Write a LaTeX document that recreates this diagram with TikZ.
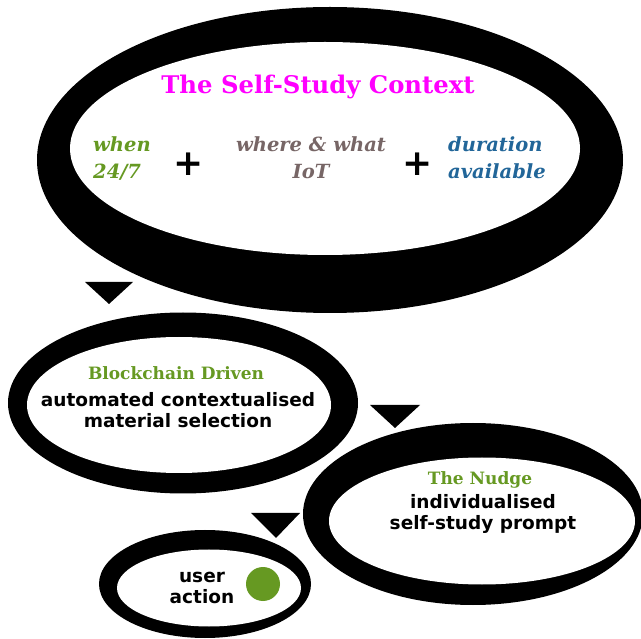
\documentclass[tikz,border=0pt]{standalone}
\usepackage{fontspec}
\newfontfamily\dvs{DejaVu Sans}
\newfontfamily\dvserif{DejaVu Serif}
\usetikzlibrary{shapes.geometric}
\definecolor{ctxgreen}{HTML}{669922}
\definecolor{ctxgray}{HTML}{776666}
\definecolor{ctxblue}{HTML}{226699}
\definecolor{ctxmag}{HTML}{FF00FF}
\begin{document}
\begin{tikzpicture}[x=1pt,y=-1pt,
  ring/.style={ellipse, fill=black, inner sep=0pt, outer sep=0pt},
  hole/.style={ellipse, fill=white, inner sep=0pt, outer sep=0pt},
  tri/.style={fill=black},
  title/.style={inner sep=0pt, font=\fontsize{24.3}{28}\selectfont\dvserif\bfseries, text=ctxmag},
  ctx/.style={inner sep=0pt, font=\fontsize{19.5}{27}\selectfont\dvserif\bfseries\itshape},
  head/.style={inner sep=0pt, font=\fontsize{17}{20}\selectfont\dvserif\bfseries, text=ctxgreen},
  body/.style={inner sep=0pt, align=center, font=\fontsize{18.5}{21}\selectfont\dvs\bfseries},
  plus/.style={inner sep=0pt, font=\fontsize{36}{36}\selectfont\dvs\bfseries}]
\useasboundingbox (0,0) rectangle (641,639);
\fill[white] (0,0) rectangle (641,639);

% top ring
\node[ring, minimum width=586pt, minimum height=306pt] (ctxo) at (330,160) {};
\node[hole, minimum width=510pt, minimum height=213pt] (ctxi) at (325,148.5) {};
\node[title] (ttl) at (318,87) {The Self-Study Context};
\node[ctx, text=ctxgreen, anchor=west, align=left] (when) at (93,158) {when\\24/7};
\node[plus] (p1) at (189,164) {+};
\node[ctx, text=ctxgray, align=center] (where) at (311,158) {where \& what\\IoT};
\node[plus] (p2) at (418,164) {+};
\node[ctx, text=ctxblue, anchor=west, align=left] (dur) at (448,158) {duration\\available};

% blockchain ring
\node[ring, minimum width=350pt, minimum height=181pt] (bco) at (183,403) {};
\node[hole, minimum width=304pt, minimum height=136pt] (bci) at (179,405) {};
\node[head] (bch) at (176,373) {Blockchain Driven};
\node[body] (bcb) at (178,410) {automated contextualised\\material selection};

% nudge ring
\node[ring, minimum width=340pt, minimum height=182pt] (ngo) at (473,514) {};
\node[hole, minimum width=306pt, minimum height=127pt] (ngi) at (482,521) {};
\node[head] (ngh) at (480,480) {The Nudge};
\node[body] (ngb) at (483,514) {individualised\\self-study prompt};

% user ring
\node[ring, minimum width=212pt, minimum height=108pt] (uao) at (205,584) {};
\node[hole, minimum width=184pt, minimum height=77pt] (uai) at (209,588) {};
\node[body] (uab) at (202,588) {user\\action};
\node[circle, fill=ctxgreen, minimum size=34pt, inner sep=0pt] (dot) at (263,584) {};

% triangles
\fill[tri] (85,282) -- (133,282) -- (109,304) -- cycle;
\fill[tri] (370,405) -- (420,405) -- (395,428) -- cycle;
\fill[tri] (251,513) -- (300,513) -- (276,538) -- cycle;
\end{tikzpicture}
\end{document}
